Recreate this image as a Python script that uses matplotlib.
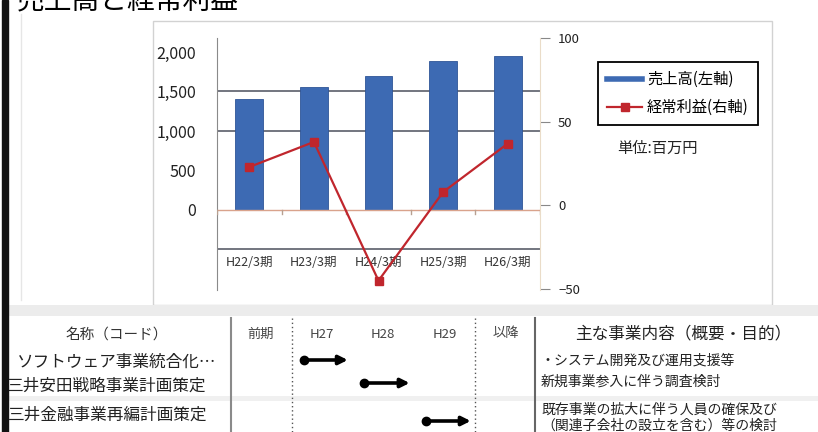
import matplotlib
matplotlib.use('Agg')
import matplotlib.pyplot as plt
from matplotlib.patches import Rectangle
from matplotlib.lines import Line2D

plt.rcParams['font.family'] = ['Noto Sans CJK JP', 'DejaVu Sans']

# ---------------- data ----------------
title = '売上高と経常利益'
periods = ['H22/3期', 'H23/3期', 'H24/3期', 'H25/3期', 'H26/3期']
sales = [1405, 1560, 1695, 1885, 1955]          # 百万円 (left axis)
profit = [23, 38, -45, 8, 37]                   # 百万円 (right axis)
sales_label = '売上高(左軸)'
profit_label = '経常利益(右軸)'
unit_note = '単位:百万円'
left_ticks = [0, 500, 1000, 1500, 2000]
right_ticks = [-50, 0, 50, 100]
grid_levels = [-500, 1000, 1500]

# schedule table below the chart
name_header = '名称（コード）'
row_names = ['ソフトウェア事業統合化…', '三井安田戦略事業計画策定', '三井金融事業再編計画策定']
plan_cols = ['前期', 'H27', 'H28', 'H29', '以降']
plan_arrow_col = [1, 2, 3]                      # schedule column of each row's arrow
desc_header = '主な事業内容（概要・目的）'
desc_lines = ['・システム開発及び運用支援等', '新規事業参入に伴う調査検討',
              '既存事業の拡大に伴う人員の確保及び', '（関連子会社の設立を含む）等の検討']

# ---------------- figure ----------------
W, H = 818, 432
fig = plt.figure(figsize=(W / 100, H / 100), dpi=100)
fig.patch.set_facecolor('white')

bg = fig.add_axes([0, 0, 1, 1])
bg.set_xlim(0, W)
bg.set_ylim(H, 0)
bg.axis('off')

# page decorations
bg.add_patch(Rectangle((2, 0), 6, H, color='#111111', zorder=5))
bg.plot([21, 21], [14, 300], color='#e6e6e6', lw=1)
bg.add_patch(Rectangle((153, 21), 619, 284, fill=False, ec='#d2d2d2', lw=1))
bg.add_patch(Rectangle((8, 305), W - 8, 11, color='#ececec', lw=0))
bg.text(17, 9, title, fontsize=20, va='baseline', ha='left', color='black')
bg.text(617, 148, unit_note, fontsize=11, va='center', ha='left', color='#222')

# ---------------- chart ----------------
ax = fig.add_axes([217 / W, 1 - 290 / H, (540 - 217) / W, (290 - 38) / H])
ax.set_facecolor('none')
ax.set_xlim(-0.5, len(periods) - 0.5)
ax.set_ylim(-1013, 2177)
x = list(range(len(periods)))

for g in grid_levels:
    ax.axhline(g, color='#4b505c', lw=1.1, zorder=1)
bars = ax.bar(x, sales, width=0.43, color='#3D6AB3', edgecolor='#2F5597',
              lw=0.6, zorder=2)
ax.axhline(0, color='#D9A38C', lw=1.0, zorder=3)
for i in range(len(periods) + 1):
    b = i - 0.5
    ax.plot([b, b], [0, -45], color='#b8a090', lw=1, zorder=3)

ax.set_yticks(left_ticks)
ax.set_yticklabels([f'{v:,}' for v in left_ticks])
ax.tick_params(axis='y', length=0, pad=15, labelsize=11.5, labelcolor='#222')
ax.set_xticks([])
for s in ['top', 'right', 'bottom']:
    ax.spines[s].set_visible(False)
ax.spines['left'].set_color('#8a8a8a')
for i, p in enumerate(periods):
    ax.text(i, -670, p, ha='center', va='center', fontsize=9, color='#333')

ax2 = ax.twinx()
ax2.set_ylim(-50.6, 100.2)
ax2.plot(x, profit, color='#C0262D', lw=1.6, marker='s', ms=6,
         mfc='#C0262D', mec='#C0262D', zorder=5)
ax2.set_yticks(right_ticks)
ax2.tick_params(axis='y', direction='out', length=7, color='#888', pad=6,
                labelsize=9.5, labelcolor='#222')
for s in ['top', 'left', 'bottom']:
    ax2.spines[s].set_visible(False)
ax2.spines['right'].set_color('#eadcc8')

handles = [Line2D([0], [0], color='#3D6AB3', lw=4),
           Line2D([0], [0], color='#C0262D', lw=1.6, marker='s', ms=6)]
leg = ax2.legend(handles, [sales_label, profit_label], loc='upper left',
                 bbox_to_anchor=(598 / W, 1 - 62 / H), bbox_transform=fig.transFigure,
                 frameon=True, fancybox=False, edgecolor='black', framealpha=1,
                 borderaxespad=0, handlelength=2.3, handletextpad=0.3,
                 fontsize=11, labelspacing=0.7, borderpad=0.6)
leg.get_frame().set_linewidth(1.3)

# ---------------- schedule table ----------------
col_edges = [230, 292, 352, 414, 475, 537]
bg.plot([231, 231], [318, H], color='#8a8a8a', lw=1.5)
bg.plot([292, 292], [318, H], color='#555', lw=1, ls=(0, (1, 2)))
bg.plot([475, 475], [318, H], color='#555', lw=1, ls=(0, (1, 2)))
bg.plot([535, 535], [318, H], color='#666', lw=1.5)
bg.add_patch(Rectangle((8, 396), W - 8, 5, color='#f0f0f0', lw=0))

bg.text(117, 335, name_header, fontsize=10.5, ha='center', va='center', color='#333')
name_y = [362, 386, 415]
name_x = [17, 7, 8]
for nx, ny, n in zip(name_x, name_y, row_names):
    bg.text(nx, ny, n, fontsize=12, ha='left', va='center', color='#222')

for i, c in enumerate(plan_cols):
    cx = (col_edges[i] + col_edges[i + 1]) / 2
    bg.text(cx, 334, c, fontsize=9.5, ha='center', va='center', color='#444')

arrow_y = [360, 383, 421]
for ci, ay in zip(plan_arrow_col, arrow_y):
    l, r = col_edges[ci], col_edges[ci + 1]
    x0 = l + 0.2 * (r - l)
    x1 = l + 0.93 * (r - l)
    bg.annotate('', xy=(x1, ay), xytext=(x0, ay),
                arrowprops=dict(arrowstyle='-|>', lw=2.6, color='black',
                                mutation_scale=13, shrinkA=0, shrinkB=0))
    bg.plot([x0], [ay], marker='o', ms=6, color='black')

bg.text(683, 334, desc_header, fontsize=12, ha='center', va='center', color='#222')
desc_y = [361, 382, 410, 426]
for dy, d in zip(desc_y, desc_lines):
    bg.text(541, dy, d, fontsize=10, ha='left', va='center', color='#222')

fig.savefig('out.png', dpi=100)
